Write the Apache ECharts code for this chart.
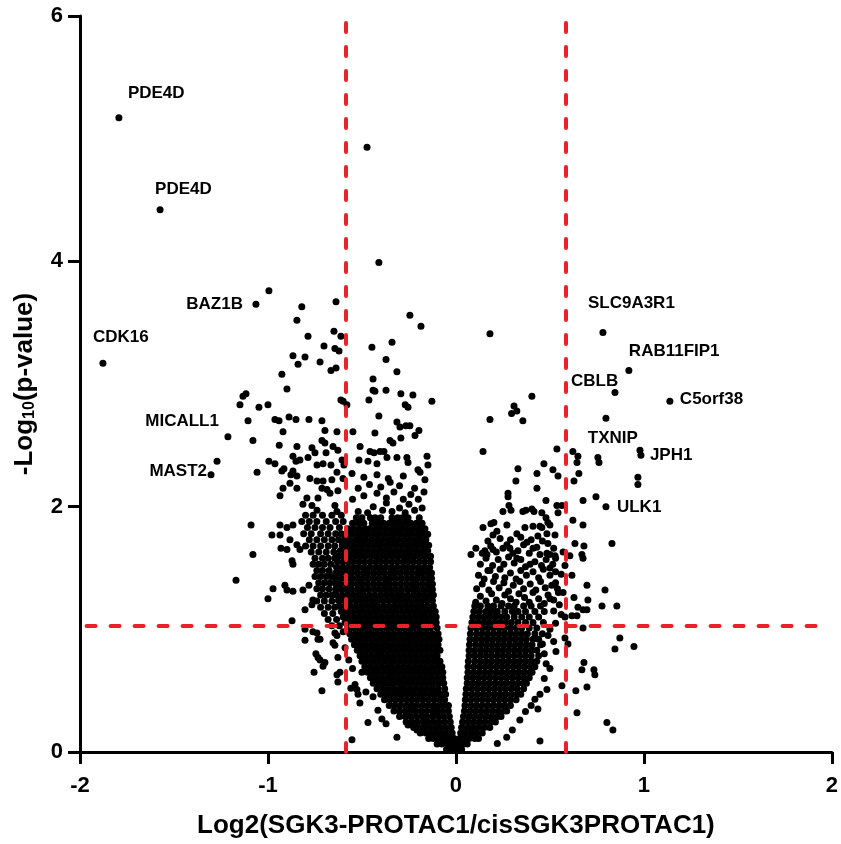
<!DOCTYPE html>
<html>
<head>
<meta charset="utf-8">
<script src="https://cdn.jsdelivr.net/npm/echarts@6/dist/echarts.min.js"></script>
<style>
  html, body { margin: 0; padding: 0; background: #ffffff; }
  #chart { width: 841px; height: 844px; }
</style>
</head>
<body>
<div id="chart"></div>
<script>
// ---- Data: log2 fold change (x) and -log10 p-value (y) ----

// Named proteins
const geneNames = ['PDE4D', 'PDE4D', 'BAZ1B', 'CDK16', 'MICALL1', 'MAST2',
  'SLC9A3R1', 'RAB11FIP1', 'CBLB', 'C5orf38', 'TXNIP', 'JPH1', 'ULK1'];
const geneLog2FC = [-1.793, -1.574, -1.064, -1.878, -1.213, -1.303,
  0.782, 0.920, 0.846, 1.138, 0.755, 0.984, 0.798];
const geneNegLog10P = [5.17, 4.42, 3.65, 3.17, 2.57, 2.26,
  3.42, 3.11, 2.93, 2.86, 2.40, 2.42, 2.00];

// Cut-offs
const foldChangeCutoffs = [-0.585, 0.585];
const pValueCutoff = 1.03;

// Axis ticks
const xTicks = [-2, -1, 0, 1, 2];
const yTicks = [0, 2, 4, 6];

// Densely packed proteins left of zero, listed row by row: [y, [x, ...]]
const leftCoreRows = [
  [0.02, [-0.05, -0.025, 0.0]],
  [0.065, [-0.10, -0.075, -0.045, -0.02, 0.0]],
  [0.11, [-0.145, -0.12, -0.09, -0.06, -0.035, -0.01]],
  [0.155, [-0.19, -0.16, -0.13, -0.105, -0.075, -0.045, -0.02]],
  [0.20, [-0.225, -0.2, -0.17, -0.14, -0.11, -0.085, -0.055, -0.025]],
  [0.245, [-0.265, -0.235, -0.205, -0.175, -0.15, -0.12, -0.09, -0.06, -0.03]],
  [0.29, [-0.3, -0.27, -0.24, -0.21, -0.18, -0.155, -0.125, -0.095, -0.065, -0.035]],
  [0.335, [-0.33, -0.3, -0.27, -0.245, -0.215, -0.185, -0.155, -0.125, -0.1, -0.07, -0.04]],
  [0.38, [-0.355, -0.325, -0.295, -0.265, -0.235, -0.21, -0.18, -0.15, -0.12, -0.09, -0.065, -0.04]],
  [0.425, [-0.38, -0.35, -0.32, -0.29, -0.26, -0.235, -0.205, -0.175, -0.145, -0.115, -0.085, -0.06]],
  [0.47, [-0.4, -0.37, -0.34, -0.31, -0.285, -0.255, -0.225, -0.195, -0.165, -0.135, -0.11, -0.08, -0.055]],
  [0.515, [-0.42, -0.39, -0.36, -0.33, -0.3, -0.275, -0.245, -0.215, -0.185, -0.155, -0.125, -0.095, -0.06]],
  [0.56, [-0.44, -0.41, -0.38, -0.35, -0.325, -0.295, -0.265, -0.235, -0.205, -0.175, -0.145, -0.12, -0.09, -0.065]],
  [0.605, [-0.455, -0.425, -0.395, -0.365, -0.34, -0.31, -0.28, -0.25, -0.22, -0.19, -0.16, -0.13, -0.1, -0.07]],
  [0.65, [-0.47, -0.44, -0.41, -0.38, -0.355, -0.325, -0.295, -0.265, -0.235, -0.205, -0.175, -0.145, -0.12, -0.09, -0.07]],
  [0.695, [-0.485, -0.455, -0.425, -0.395, -0.365, -0.34, -0.31, -0.28, -0.25, -0.22, -0.19, -0.16, -0.13, -0.1, -0.075]],
  [0.74, [-0.5, -0.47, -0.44, -0.41, -0.38, -0.35, -0.325, -0.295, -0.265, -0.235, -0.205, -0.175, -0.145, -0.115, -0.085]],
  [0.785, [-0.51, -0.48, -0.45, -0.42, -0.395, -0.365, -0.335, -0.305, -0.275, -0.245, -0.215, -0.185, -0.155, -0.125, -0.1]],
  [0.83, [-0.525, -0.495, -0.465, -0.435, -0.405, -0.38, -0.35, -0.32, -0.29, -0.26, -0.23, -0.2, -0.17, -0.14, -0.11, -0.085]],
  [0.875, [-0.54, -0.51, -0.48, -0.45, -0.42, -0.39, -0.365, -0.335, -0.305, -0.275, -0.245, -0.215, -0.185, -0.155, -0.125, -0.095]],
  [0.92, [-0.555, -0.525, -0.495, -0.465, -0.435, -0.405, -0.375, -0.35, -0.32, -0.29, -0.26, -0.23, -0.2, -0.17, -0.14, -0.11, -0.09]],
  [0.965, [-0.565, -0.535, -0.505, -0.475, -0.45, -0.42, -0.39, -0.36, -0.33, -0.3, -0.27, -0.24, -0.21, -0.185, -0.155, -0.125, -0.095]],
  [1.01, [-0.575, -0.545, -0.515, -0.49, -0.46, -0.43, -0.4, -0.37, -0.34, -0.31, -0.28, -0.25, -0.225, -0.195, -0.165, -0.135, -0.1]],
  [1.055, [-0.59, -0.56, -0.53, -0.5, -0.47, -0.445, -0.415, -0.385, -0.355, -0.325, -0.295, -0.265, -0.235, -0.205, -0.18, -0.15, -0.12, -0.105]],
  [1.10, [-0.6, -0.57, -0.54, -0.51, -0.48, -0.455, -0.425, -0.395, -0.365, -0.335, -0.305, -0.275, -0.245, -0.215, -0.185, -0.16, -0.13, -0.105]],
  [1.145, [-0.61, -0.58, -0.55, -0.52, -0.49, -0.46, -0.435, -0.405, -0.375, -0.345, -0.315, -0.285, -0.255, -0.225, -0.2, -0.17, -0.14, -0.11]],
  [1.19, [-0.62, -0.59, -0.56, -0.53, -0.5, -0.47, -0.44, -0.415, -0.385, -0.355, -0.325, -0.295, -0.265, -0.235, -0.205, -0.18, -0.15, -0.12]],
  [1.235, [-0.625, -0.595, -0.565, -0.535, -0.51, -0.48, -0.45, -0.42, -0.39, -0.36, -0.33, -0.305, -0.275, -0.245, -0.215, -0.185, -0.155, -0.125]],
  [1.28, [-0.635, -0.605, -0.575, -0.545, -0.515, -0.49, -0.46, -0.43, -0.4, -0.37, -0.34, -0.31, -0.285, -0.255, -0.225, -0.195, -0.165, -0.135, -0.12]],
  [1.325, [-0.64, -0.61, -0.58, -0.555, -0.525, -0.495, -0.465, -0.435, -0.405, -0.38, -0.35, -0.32, -0.29, -0.26, -0.23, -0.205, -0.175, -0.145, -0.125]],
  [1.37, [-0.64, -0.615, -0.585, -0.555, -0.525, -0.5, -0.47, -0.44, -0.41, -0.38, -0.355, -0.325, -0.295, -0.265, -0.235, -0.21, -0.18, -0.15, -0.125]],
  [1.415, [-0.64, -0.61, -0.58, -0.55, -0.52, -0.495, -0.465, -0.435, -0.405, -0.375, -0.35, -0.32, -0.29, -0.26, -0.23, -0.205, -0.175, -0.145, -0.13]],
  [1.46, [-0.64, -0.615, -0.585, -0.555, -0.525, -0.495, -0.47, -0.44, -0.41, -0.38, -0.35, -0.325, -0.295, -0.265, -0.235, -0.205, -0.18, -0.15, -0.13]],
  [1.505, [-0.635, -0.605, -0.575, -0.545, -0.52, -0.49, -0.46, -0.43, -0.4, -0.375, -0.345, -0.315, -0.285, -0.255, -0.23, -0.2, -0.17, -0.14]],
  [1.55, [-0.63, -0.6, -0.57, -0.545, -0.515, -0.485, -0.455, -0.425, -0.4, -0.37, -0.34, -0.31, -0.28, -0.255, -0.225, -0.195, -0.165, -0.135]],
  [1.595, [-0.625, -0.595, -0.565, -0.535, -0.51, -0.48, -0.45, -0.42, -0.39, -0.365, -0.335, -0.305, -0.275, -0.245, -0.22, -0.19, -0.16, -0.135]],
  [1.64, [-0.615, -0.585, -0.555, -0.53, -0.5, -0.47, -0.44, -0.41, -0.385, -0.355, -0.325, -0.295, -0.265, -0.24, -0.21, -0.18, -0.15]],
  [1.685, [-0.605, -0.575, -0.545, -0.515, -0.49, -0.46, -0.43, -0.4, -0.37, -0.345, -0.315, -0.285, -0.255, -0.225, -0.2, -0.17, -0.145]],
  [1.73, [-0.595, -0.565, -0.535, -0.51, -0.48, -0.45, -0.42, -0.39, -0.36, -0.335, -0.305, -0.275, -0.245, -0.215, -0.19, -0.16]],
  [1.775, [-0.585, -0.555, -0.525, -0.495, -0.47, -0.44, -0.41, -0.38, -0.35, -0.325, -0.295, -0.265, -0.235, -0.205, -0.18, -0.15]],
  [1.82, [-0.575, -0.545, -0.515, -0.485, -0.46, -0.43, -0.4, -0.37, -0.34, -0.31, -0.285, -0.255, -0.225, -0.195, -0.165]],
  [1.865, [-0.55, -0.52, -0.49, -0.445, -0.415, -0.385, -0.355, -0.325, -0.3, -0.27, -0.24, -0.21, -0.18]],
  [1.91, [-0.53, -0.5, -0.455, -0.43, -0.4, -0.34, -0.31, -0.285, -0.255, -0.195]]
];

// Ragged top of the left cloud: [x, y]
const leftTopPoints = [
  [-0.52, 1.96], [-0.47, 1.95], [-0.44, 2.0], [-0.39, 1.97], [-0.37, 2.03], [-0.34, 1.96], [-0.3, 1.99],
  [-0.27, 1.95], [-0.25, 2.02], [-0.22, 1.97], [-0.18, 1.99],
  [-0.55, 2.06], [-0.49, 2.09], [-0.42, 2.11], [-0.37, 2.07], [-0.33, 2.12], [-0.28, 2.06], [-0.24, 2.1],
  [-0.2, 2.06], [-0.17, 2.12],
  [-0.52, 2.15], [-0.46, 2.18], [-0.4, 2.16], [-0.35, 2.2], [-0.3, 2.17], [-0.22, 2.15],
  [-0.49, 2.24], [-0.42, 2.26], [-0.36, 2.23], [-0.28, 2.25]
];

// Looser halo to the left of the dense core: [y, [x, ...]]
const leftHaloRows = [
  [1.93, [-0.8, -0.76, -0.71, -0.66, -0.61]],
  [1.88, [-0.82, -0.78, -0.74, -0.69, -0.64, -0.6]],
  [1.83, [-0.79, -0.75, -0.71, -0.67, -0.62]],
  [1.78, [-0.81, -0.77, -0.72, -0.68, -0.64, -0.61]],
  [1.73, [-0.78, -0.74, -0.7, -0.66, -0.625]],
  [1.68, [-0.8, -0.76, -0.72, -0.68, -0.645]],
  [1.63, [-0.77, -0.73, -0.69, -0.65]],
  [1.58, [-0.75, -0.71, -0.68, -0.645]],
  [1.53, [-0.76, -0.73, -0.7, -0.665]],
  [1.48, [-0.74, -0.71, -0.675]],
  [1.43, [-0.75, -0.72, -0.69, -0.665]],
  [1.38, [-0.73, -0.7, -0.67]],
  [1.33, [-0.74, -0.71, -0.675]],
  [1.28, [-0.72, -0.69, -0.66]],
  [1.23, [-0.74, -0.7, -0.66]],
  [1.18, [-0.72, -0.68, -0.645]],
  [1.13, [-0.7, -0.655]],
  [1.08, [-0.68, -0.635]],
  [1.03, [-0.66, -0.62]]
];

// Densely packed proteins right of zero: [y, [x, ...]]
const rightCoreRows = [
  [0.02, [0.01, 0.03]],
  [0.065, [0.015, 0.04, 0.06]],
  [0.11, [0.02, 0.045, 0.07, 0.1, 0.12]],
  [0.155, [0.025, 0.05, 0.08, 0.11, 0.14]],
  [0.20, [0.03, 0.06, 0.09, 0.12, 0.15, 0.18]],
  [0.245, [0.035, 0.065, 0.095, 0.125, 0.155, 0.185, 0.21]],
  [0.29, [0.04, 0.07, 0.1, 0.13, 0.16, 0.19, 0.22, 0.24]],
  [0.335, [0.045, 0.075, 0.105, 0.135, 0.165, 0.195, 0.225, 0.255, 0.27]],
  [0.38, [0.048, 0.08, 0.11, 0.14, 0.17, 0.2, 0.23, 0.26, 0.29]],
  [0.425, [0.05, 0.08, 0.11, 0.14, 0.17, 0.2, 0.23, 0.26, 0.29, 0.32]],
  [0.47, [0.053, 0.085, 0.115, 0.145, 0.175, 0.205, 0.235, 0.265, 0.295, 0.325, 0.345]],
  [0.515, [0.055, 0.085, 0.115, 0.145, 0.175, 0.205, 0.235, 0.265, 0.295, 0.325, 0.36]],
  [0.56, [0.06, 0.09, 0.12, 0.15, 0.18, 0.21, 0.24, 0.27, 0.3, 0.33, 0.36, 0.375]],
  [0.605, [0.06, 0.09, 0.12, 0.15, 0.18, 0.21, 0.24, 0.27, 0.3, 0.33, 0.36, 0.39]],
  [0.65, [0.064, 0.095, 0.125, 0.155, 0.185, 0.215, 0.245, 0.275, 0.305, 0.335, 0.365, 0.395, 0.405]],
  [0.695, [0.064, 0.095, 0.125, 0.155, 0.185, 0.215, 0.245, 0.275, 0.305, 0.335, 0.365, 0.395, 0.42]],
  [0.74, [0.066, 0.1, 0.13, 0.16, 0.19, 0.22, 0.25, 0.28, 0.31, 0.34, 0.37, 0.4, 0.43]],
  [0.785, [0.07, 0.1, 0.13, 0.16, 0.19, 0.22, 0.25, 0.28, 0.31, 0.34, 0.37, 0.4, 0.44]],
  [0.83, [0.07, 0.1, 0.13, 0.16, 0.19, 0.22, 0.25, 0.28, 0.31, 0.34, 0.37, 0.4, 0.43]],
  [0.875, [0.072, 0.105, 0.135, 0.165, 0.195, 0.225, 0.255, 0.285, 0.315, 0.345, 0.375, 0.405, 0.45]],
  [0.92, [0.075, 0.105, 0.135, 0.165, 0.195, 0.225, 0.255, 0.285, 0.315, 0.345, 0.375, 0.41, 0.44]],
  [0.965, [0.077, 0.11, 0.14, 0.17, 0.2, 0.23, 0.26, 0.29, 0.32, 0.35, 0.38, 0.42, 0.46]],
  [1.01, [0.08, 0.11, 0.14, 0.17, 0.2, 0.23, 0.26, 0.29, 0.32, 0.35, 0.39, 0.43]],
  [1.055, [0.085, 0.115, 0.145, 0.175, 0.205, 0.235, 0.265, 0.295, 0.33, 0.37, 0.41, 0.465]],
  [1.10, [0.09, 0.12, 0.15, 0.18, 0.21, 0.24, 0.27, 0.31, 0.35, 0.39, 0.44]],
  [1.145, [0.095, 0.125, 0.16, 0.19, 0.22, 0.26, 0.3, 0.33, 0.37, 0.42, 0.47]],
  [1.19, [0.10, 0.13, 0.17, 0.2, 0.24, 0.28, 0.31, 0.36, 0.4, 0.45]]
];

// Upper, looser part of the right cloud: [x, y]
const rightUpperPoints = [
  [0.105, 1.22], [0.13, 1.27], [0.16, 1.23], [0.19, 1.29], [0.215, 1.24], [0.245, 1.21], [0.26, 1.28], [0.29, 1.25],
  [0.32, 1.22], [0.335, 1.29], [0.365, 1.26], [0.39, 1.22], [0.41, 1.3], [0.44, 1.25], [0.47, 1.21], [0.49, 1.28],
  [0.52, 1.24], [0.545, 1.3],
  [0.11, 1.33], [0.14, 1.37], [0.175, 1.32], [0.2, 1.39], [0.23, 1.34], [0.255, 1.38], [0.28, 1.31], [0.305, 1.36],
  [0.34, 1.39], [0.36, 1.33], [0.395, 1.37], [0.425, 1.32], [0.45, 1.39], [0.475, 1.34], [0.51, 1.36], [0.54, 1.33],
  [0.12, 1.44], [0.15, 1.41], [0.17, 1.48], [0.21, 1.43], [0.235, 1.49], [0.26, 1.42], [0.29, 1.46], [0.32, 1.41],
  [0.345, 1.48], [0.375, 1.44], [0.41, 1.47], [0.44, 1.42], [0.465, 1.49], [0.5, 1.44], [0.53, 1.47],
  [0.13, 1.53], [0.16, 1.58], [0.195, 1.52], [0.225, 1.57], [0.255, 1.53], [0.28, 1.59], [0.31, 1.54], [0.345, 1.57],
  [0.37, 1.51], [0.42, 1.55], [0.455, 1.52], [0.48, 1.57], [0.515, 1.53],
  [0.14, 1.62], [0.185, 1.68], [0.215, 1.63], [0.25, 1.66], [0.33, 1.64], [0.36, 1.69], [0.39, 1.62], [0.43, 1.67],
  [0.52, 1.66],
  [0.17, 1.72], [0.235, 1.74], [0.29, 1.73], [0.345, 1.75], [0.4, 1.73], [0.46, 1.72]
];

// Individually placed proteins outside the dense clouds: [x, y]
const sparsePoints = [
  [-0.473, 4.93], [-0.41, 3.99], [-0.995, 3.76], [-0.82, 3.63], [-0.638, 3.67], [-0.846, 3.52], [-0.245, 3.56], [-0.186, 3.47],
  [-0.649, 3.43], [-0.612, 3.39], [-0.787, 3.39], [-0.34, 3.34], [-0.702, 3.31], [-0.447, 3.30], [-0.644, 3.29], [-0.622, 3.27],
  [-0.867, 3.23], [-0.803, 3.22], [-0.372, 3.20], [-0.723, 3.18], [-0.84, 3.16], [-0.665, 3.11], [-0.638, 3.13], [-0.314, 3.10],
  [-0.926, 3.08], [-0.441, 3.04], [-0.899, 2.96], [-0.441, 2.95], [-0.431, 2.94], [-0.372, 2.95], [-0.293, 2.92], [-0.229, 2.91],
  [-1.117, 2.92], [-1.133, 2.90], [-0.463, 2.87], [-0.612, 2.87], [-0.60, 2.86], [-0.58, 2.83], [-0.128, 2.86],
  [-0.27, 2.83], [-0.255, 2.81], [-1.149, 2.83], [-1.048, 2.81], [-1.0, 2.83],
  [-0.41, 2.74], [-1.106, 2.70], [-0.963, 2.71], [-0.941, 2.70], [-0.888, 2.73], [-0.851, 2.71], [-0.782, 2.71], [-0.713, 2.70],
  [-0.314, 2.69], [-0.298, 2.65], [-0.266, 2.66], [-0.245, 2.66], [-0.697, 2.62], [-0.92, 2.61], [-0.633, 2.61], [-0.548, 2.61],
  [-0.431, 2.60], [-0.197, 2.62], [-0.218, 2.58],
  [-1.08, 2.54], [-0.713, 2.54], [-0.697, 2.52], [-0.351, 2.54], [-0.335, 2.52], [-0.293, 2.56],
  [-0.94, 2.50], [-0.846, 2.49], [-0.654, 2.49], [-0.51, 2.49], [-0.766, 2.48], [-0.628, 2.46], [-0.75, 2.44], [-0.691, 2.44],
  [-0.457, 2.45], [-0.436, 2.44], [-0.404, 2.45], [-0.383, 2.45], [-0.867, 2.41], [-0.787, 2.40], [-0.367, 2.40], [-0.314, 2.40],
  [-0.261, 2.40], [-0.154, 2.41],
  [-0.995, 2.37], [-0.963, 2.35], [-0.851, 2.37], [-0.83, 2.38], [-0.606, 2.38], [-0.516, 2.38], [-0.468, 2.37], [-0.255, 2.36],
  [-0.739, 2.34], [-0.707, 2.35], [-0.665, 2.34], [-0.596, 2.34], [-0.42, 2.35], [-0.149, 2.34], [-1.271, 2.37],
  [-1.058, 2.28], [-0.926, 2.29], [-0.915, 2.31], [-0.867, 2.29], [-0.878, 2.26], [-0.846, 2.25], [-0.777, 2.23], [-0.739, 2.21],
  [-0.707, 2.21], [-0.66, 2.22], [-0.633, 2.28], [-0.601, 2.23], [-0.553, 2.27], [-0.202, 2.30], [-0.191, 2.28], [-0.165, 2.22],
  [-0.883, 2.19], [-0.846, 2.15], [-0.92, 2.15], [-0.713, 2.15], [-0.686, 2.14], [-0.67, 2.11], [-0.628, 2.13],
  [-0.936, 2.09], [-0.793, 2.07], [-0.734, 2.07], [-0.814, 2.02], [-0.766, 2.01], [-0.739, 1.97], [-0.644, 2.01], [-0.633, 1.96],
  [-1.09, 1.85], [-0.936, 1.85], [-0.899, 1.83], [-0.867, 1.85], [-0.979, 1.77], [-0.936, 1.77], [-0.883, 1.73], [-0.846, 1.69],
  [-0.83, 1.65], [-0.931, 1.66], [-0.899, 1.65], [-1.08, 1.61],
  [-1.17, 1.40], [-0.973, 1.33], [-1.0, 1.25], [-0.91, 1.36], [-0.899, 1.32], [-0.867, 1.31], [-0.872, 1.56], [-0.867, 1.53],
  [-0.814, 1.32], [-0.782, 1.36], [-0.803, 1.16], [-0.761, 1.24], [-0.766, 1.20], [-0.872, 1.07],
  [-0.761, 0.98], [-0.739, 0.97], [-0.734, 0.92], [-0.803, 0.91], [-0.803, 1.00], [-0.633, 0.95], [-0.644, 0.87], [-0.745, 0.80],
  [-0.734, 0.77], [-0.697, 0.73], [-0.723, 0.75], [-0.707, 0.70], [-0.633, 0.63], [-0.755, 0.65], [-0.713, 0.50], [-0.527, 0.51],
  [-0.521, 0.47], [-0.511, 0.40], [-0.723, 0.92], [-0.644, 0.97], [-0.654, 0.89], [-0.628, 0.77], [-0.617, 0.65], [-0.628, 0.57],
  [-0.553, 0.10], [-0.468, 0.24], [-0.415, 0.34], [-0.394, 0.27], [-0.372, 0.23], [-0.314, 0.12], [-0.255, 0.22], [-0.207, 0.18],
  [-0.559, 0.52], [-0.537, 0.55], [-0.5, 0.65], [-0.479, 0.49], [-0.441, 0.45], [-0.59, 0.85], [-0.57, 0.75], [-0.55, 0.68],
  [-0.6, 0.98],
  [0.181, 3.41], [0.404, 2.90], [0.309, 2.82], [0.324, 2.78], [0.296, 2.76], [0.181, 2.71], [0.356, 2.70], [0.798, 2.72],
  [0.144, 2.45], [0.537, 2.47], [0.622, 2.45], [0.649, 2.41], [0.644, 2.36], [0.761, 2.36], [0.979, 2.46],
  [0.468, 2.35], [0.33, 2.31], [0.516, 2.30], [0.431, 2.27], [0.543, 2.25], [0.654, 2.27], [0.628, 2.21], [0.968, 2.24],
  [0.968, 2.18], [0.319, 2.21], [0.431, 2.15], [0.277, 2.11], [0.277, 2.08], [0.479, 2.05], [0.745, 2.08], [0.676, 2.05],
  [0.564, 2.01], [0.537, 2.01],
  [0.25, 1.96], [0.282, 2.01], [0.293, 1.97], [0.356, 1.96], [0.372, 1.97], [0.404, 1.98], [0.415, 1.96], [0.457, 1.95],
  [0.479, 1.91], [0.543, 1.95], [0.622, 1.89], [0.676, 1.85],
  [0.144, 1.83], [0.186, 1.86], [0.202, 1.87], [0.218, 1.80], [0.271, 1.85], [0.324, 1.78], [0.367, 1.83], [0.41, 1.84],
  [0.447, 1.84], [0.457, 1.83], [0.489, 1.87], [0.5, 1.85], [0.484, 1.78], [0.527, 1.77], [0.197, 1.77], [0.378, 1.71],
  [0.436, 1.76],
  [0.106, 1.66], [0.08, 1.61], [0.154, 1.64], [0.165, 1.61], [0.197, 1.65], [0.271, 1.69], [0.287, 1.66], [0.303, 1.62],
  [0.324, 1.58], [0.41, 1.66], [0.489, 1.70], [0.447, 1.61], [0.484, 1.62], [0.5, 1.61], [0.527, 1.60], [0.394, 1.53],
  [0.181, 1.48],
  [0.83, 1.70], [0.633, 1.70], [0.681, 1.68], [0.606, 1.60], [0.67, 1.61], [0.676, 1.58], [0.617, 1.44], [0.697, 1.36],
  [0.793, 1.32], [0.628, 1.26], [0.702, 1.24], [0.777, 1.19], [0.856, 1.19], [0.649, 1.18], [0.676, 1.16], [0.697, 1.16],
  [0.644, 1.11], [0.617, 1.11], [0.58, 1.10], [0.676, 1.01],
  [0.872, 0.93], [0.947, 0.86], [0.846, 0.84], [0.58, 0.93], [0.596, 0.88], [0.532, 0.82], [0.681, 0.73], [0.67, 0.67],
  [0.734, 0.67], [0.739, 0.63], [0.697, 0.53], [0.638, 0.50], [0.564, 0.54], [0.484, 0.51], [0.447, 0.47], [0.436, 0.35],
  [0.644, 0.32], [0.803, 0.24], [0.835, 0.18], [0.447, 0.09],
  [0.5, 1.0], [0.53, 1.05], [0.56, 1.12], [0.52, 1.15], [0.55, 1.2], [0.5, 1.25], [0.57, 1.3], [0.53, 1.38],
  [0.56, 1.45], [0.5, 1.5], [0.58, 1.52], [0.53, 1.58], [0.57, 1.63], [0.49, 0.95], [0.52, 0.9], [0.47, 0.8],
  [0.30, 0.18], [0.34, 0.26], [0.37, 0.33], [0.40, 0.38], [0.42, 0.43], [0.27, 0.12], [0.22, 0.07], [0.47, 0.6],
  [0.5, 0.68], [0.48, 0.72], [0.46, 0.88],
  [0.0, 0.01], [-0.015, 0.03], [0.015, 0.03]
];

// ---- Build point lists for the library ----
function rowsToPoints(rows) {
  const out = [];
  rows.forEach(([y, xs]) => xs.forEach(x => out.push([x, y])));
  return out;
}
const cloudPoints = []
  .concat(rowsToPoints(leftCoreRows))
  .concat(leftTopPoints)
  .concat(rowsToPoints(leftHaloRows))
  .concat(rowsToPoints(rightCoreRows))
  .concat(rightUpperPoints)
  .concat(sparsePoints);

// Label placement for the named proteins: anchor offset (px) from the dot centre
const FONT = "'Liberation Sans', Arial, Helvetica, sans-serif";
const labelPlacement = {
  0: { dx: 9, dy: -25, align: 'left' },
  1: { dx: -5, dy: -21, align: 'left' },
  2: { dx: -13, dy: 0, align: 'right' },
  3: { dx: -10, dy: -26, align: 'left' },
  4: { dx: -9, dy: -15, align: 'right' },
  5: { dx: -4, dy: -3, align: 'right' },
  6: { dx: -15, dy: -29, align: 'left' },
  7: { dx: 0, dy: -19, align: 'left' },
  8: { dx: -44, dy: -11, align: 'left' },
  9: { dx: 10, dy: -2, align: 'left' },
  10: { dx: -10, dy: -19, align: 'left' },
  11: { dx: 9, dy: 0, align: 'left' },
  12: { dx: 11, dy: 1, align: 'left' }
};
const SYMBOL = 7;
const geneData = geneNames.map((name, i) => {
  const p = labelPlacement[i];
  return {
    name: name,
    value: [geneLog2FC[i], geneNegLog10P[i]],
    label: {
      show: true,
      formatter: name,
      position: [SYMBOL / 2 + p.dx, SYMBOL / 2 + p.dy],
      align: p.align,
      verticalAlign: 'middle'
    }
  };
});

const RED = '#ec2127';
const thresholdLines = [
  [{ coord: [foldChangeCutoffs[0], 0] }, { coord: [foldChangeCutoffs[0], 6] }],
  [{ coord: [foldChangeCutoffs[1], 0] }, { coord: [foldChangeCutoffs[1], 6] }],
  [{ coord: [-1.965, pValueCutoff] }, { coord: [1.955, pValueCutoff] }]
];

const chart = echarts.init(document.getElementById('chart'), null, { renderer: 'canvas' });
chart.setOption({
  animation: false,
  backgroundColor: '#ffffff',
  grid: { left: 80, right: 9, top: 16, bottom: 89, containLabel: false },
  xAxis: {
    type: 'value',
    min: xTicks[0], max: xTicks[xTicks.length - 1], interval: 1,
    name: 'Log2(SGK3-PROTAC1/cisSGK3PROTAC1)',
    nameLocation: 'middle',
    nameGap: 61,
    nameTextStyle: { fontFamily: FONT, fontSize: 26, fontWeight: 'bold', color: '#000' },
    axisLine: { show: true, onZero: false, lineStyle: { color: '#000', width: 3 } },
    axisTick: { show: true, inside: false, length: 12, lineStyle: { color: '#000', width: 3 } },
    axisLabel: { fontFamily: FONT, fontSize: 22, fontWeight: 'bold', color: '#000', margin: 23 },
    splitLine: { show: false }
  },
  yAxis: {
    type: 'value',
    min: yTicks[0], max: yTicks[yTicks.length - 1], interval: 2,
    name: '{t|-Log}{s|10}{t|(p-value)}',
    nameLocation: 'middle',
    nameGap: 42,
    nameRotate: 90,
    nameTextStyle: {
      rich: {
        t: { fontFamily: FONT, fontSize: 26, fontWeight: 'bold', color: '#000', verticalAlign: 'bottom' },
        s: { fontFamily: FONT, fontSize: 16, fontWeight: 'bold', color: '#000', verticalAlign: 'bottom' }
      }
    },
    axisLine: { show: true, onZero: false, lineStyle: { color: '#000', width: 3 } },
    axisTick: { show: true, inside: false, length: 12, lineStyle: { color: '#000', width: 3 } },
    axisLabel: { fontFamily: FONT, fontSize: 22, fontWeight: 'bold', color: '#000', margin: 17 },
    splitLine: { show: false }
  },
  series: [
    {
      name: 'proteins',
      type: 'scatter',
      symbol: 'circle',
      symbolSize: SYMBOL,
      itemStyle: { color: '#000', opacity: 1 },
      data: cloudPoints,
      silent: true,
      z: 2
    },
    {
      name: 'named',
      type: 'scatter',
      symbol: 'circle',
      symbolSize: SYMBOL,
      itemStyle: { color: '#000', opacity: 1 },
      label: { fontFamily: FONT, fontSize: 17, fontWeight: 'bold', color: '#000', opacity: 1 },
      data: geneData,
      silent: true,
      z: 3
    },
    {
      name: 'cutoffs',
      type: 'scatter',
      data: [],
      silent: true,
      z: 5,
      markLine: {
        silent: true,
        symbol: ['none', 'none'],
        label: { show: false },
        lineStyle: { color: RED, width: 4, type: [9, 15], cap: 'round', opacity: 1 },
        data: thresholdLines,
        z: 5
      }
    }
  ]
});
</script>
</body>
</html>
